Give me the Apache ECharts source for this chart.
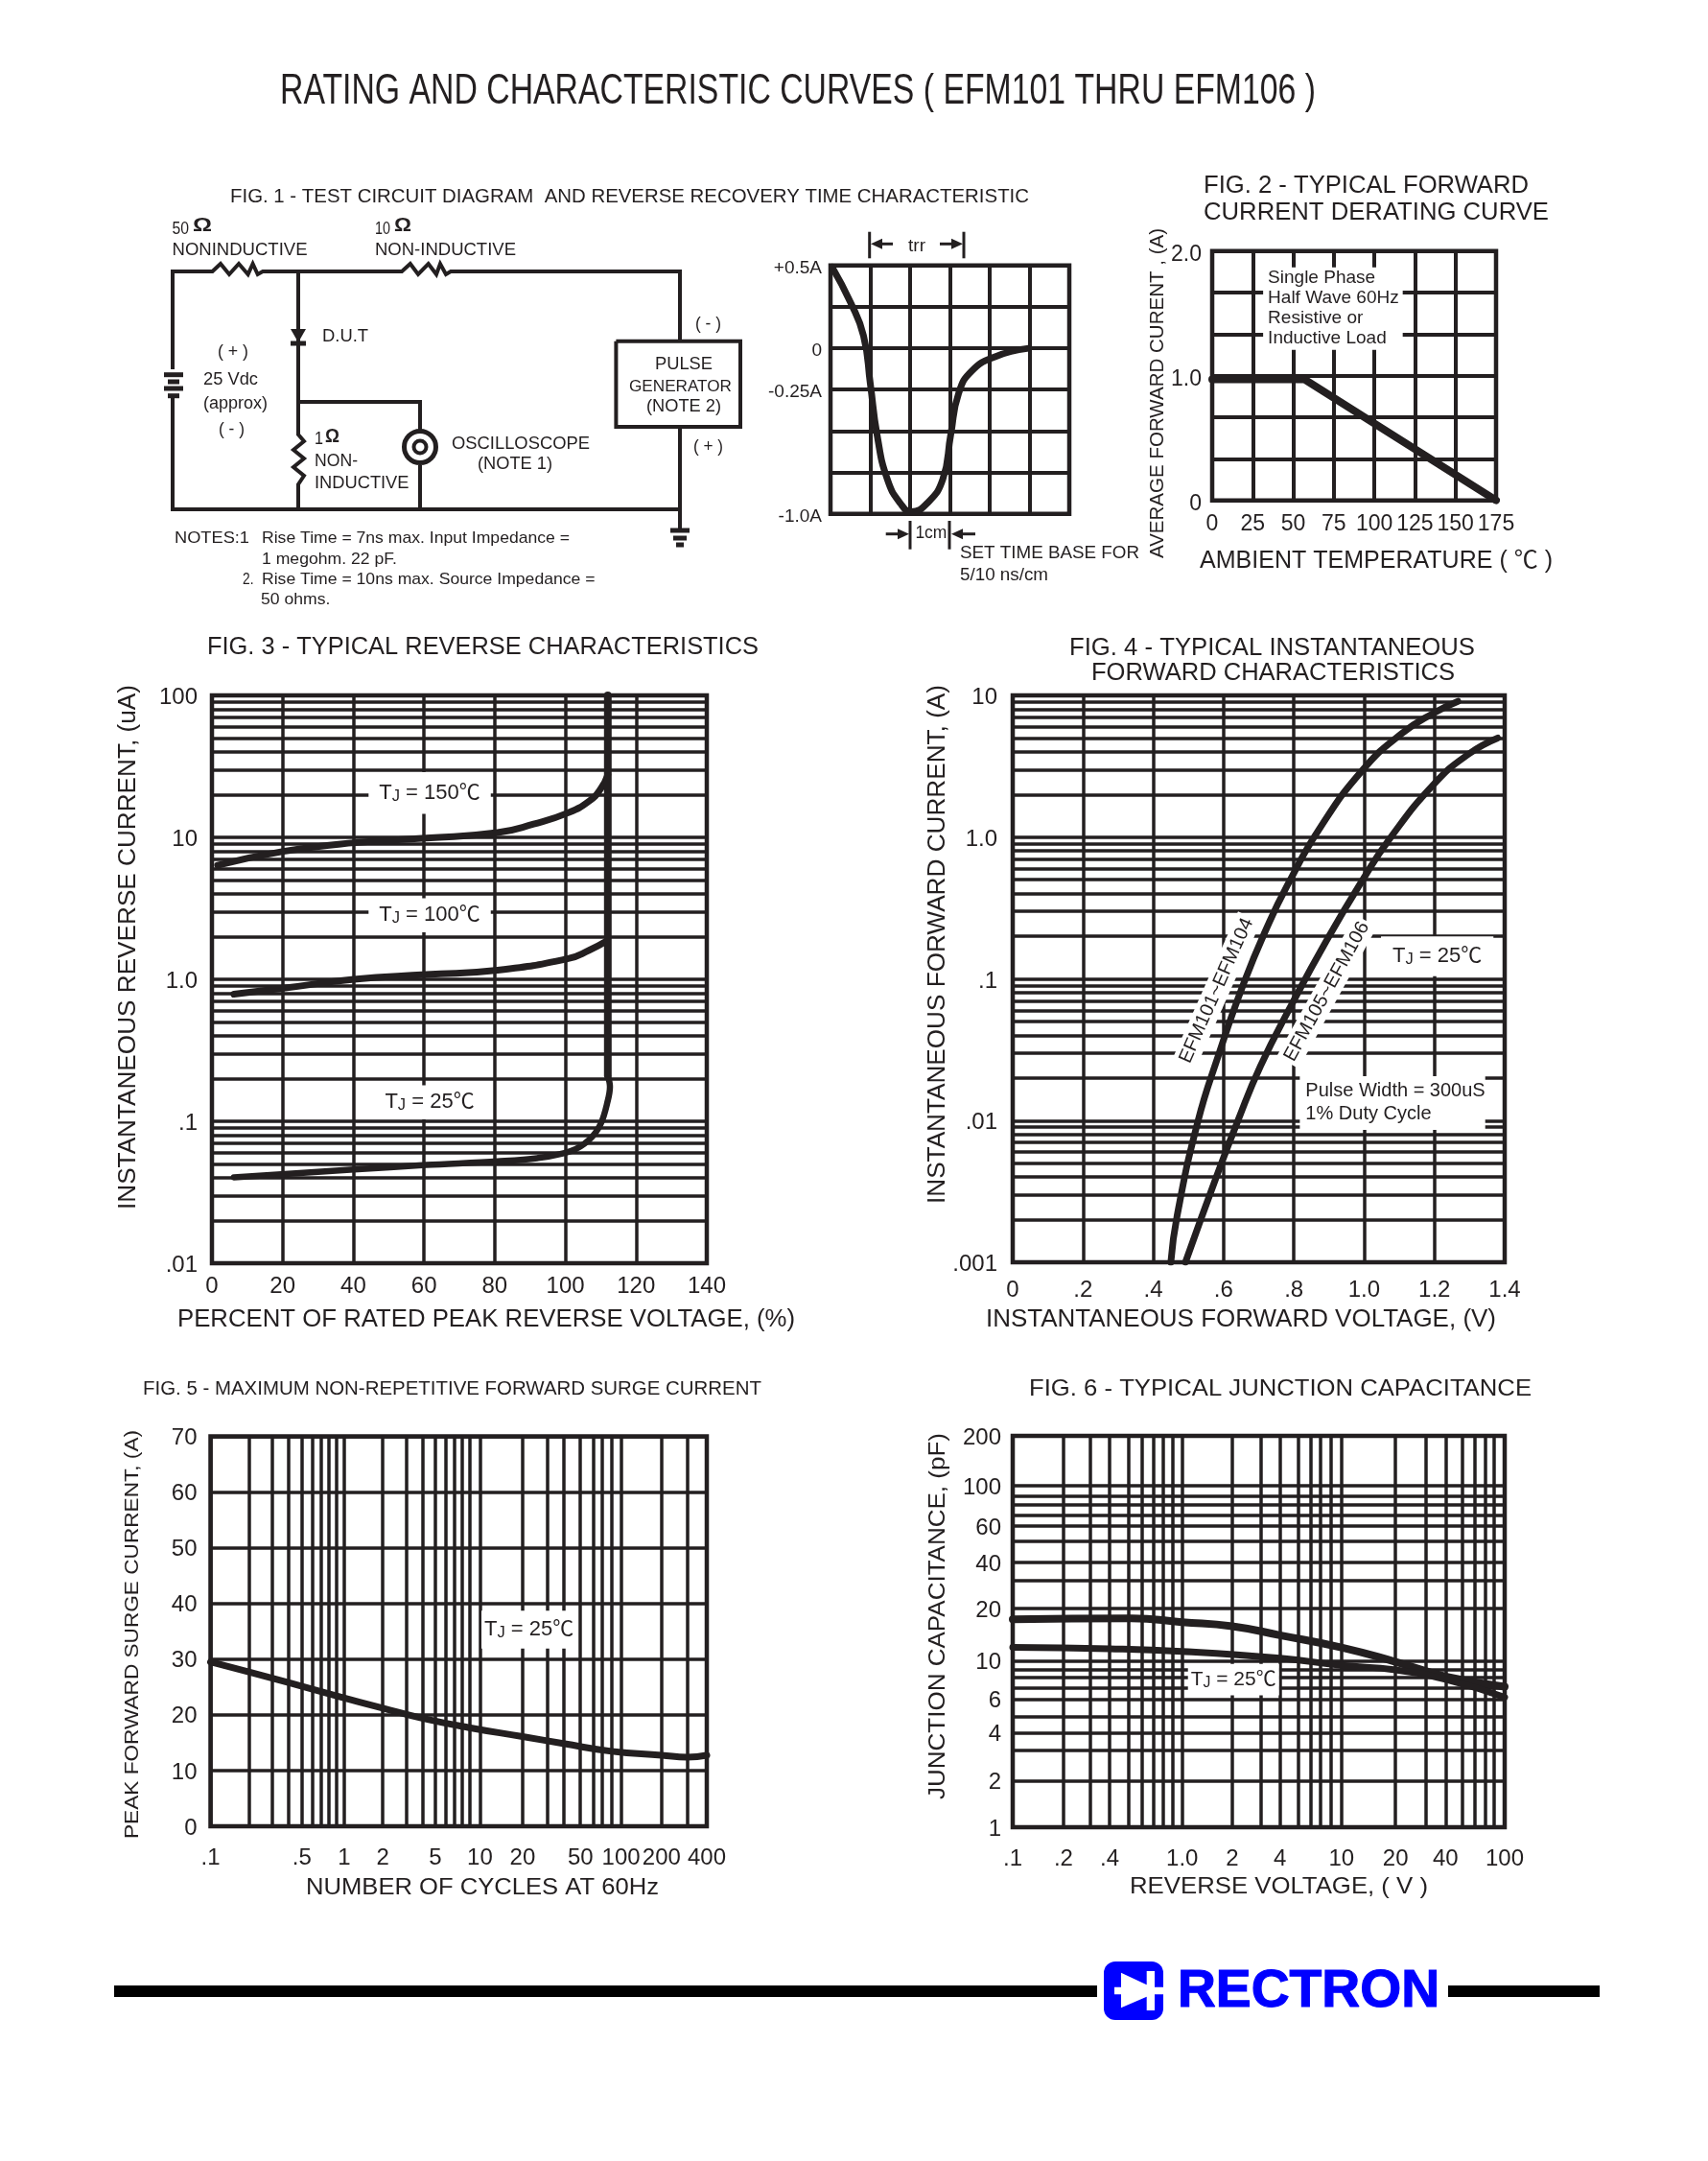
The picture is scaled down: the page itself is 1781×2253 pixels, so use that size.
<!DOCTYPE html>
<html><head><meta charset="utf-8"><title>EFM101 THRU EFM106</title>
<style>html,body{margin:0;padding:0;background:#fff}#c{width:1781px;height:2253px}</style>
<script src="https://cdn.jsdelivr.net/npm/echarts@6/dist/echarts.min.js"></script></head>
<body><div id="c"></div>
<script>
const INK = '#231f20', BLUE = '#0000ff';
const FONT = '"Liberation Sans","Noto Sans CJK SC",sans-serif';

/* ---------- FIG.1 time trace ---------- */
const scopeXTicks = [0,1,2,3,4,5,6];
const scopeYGrid = [-1,-0.75,-0.5,-0.25,0,0.25,0.5];
const scopeYTickAt = [0.5,0,-0.25,-1];
const scopeYLabels = ['+0.5A','0','-0.25A','-1.0A'];
const scopeTrace = [[.04,.49],[.5,.278],[.83,.075],[1,-.214],[1.17,-.523],[1.43,-.793],[1.76,-.938],[2.03,-.987],[2.42,-.938],[2.82,-.793],[3.02,-.523],[3.22,-.272],[3.55,-.137],[4.15,-.05],[4.94,-.002]];

/* ---------- FIG.2 ---------- */
const fig2XTicks = [0,25,50,75,100,125,150,175];
const fig2YGrid = [0,.3333,.6667,1,1.3333,1.6667,2];
const fig2YTickAt = [0,1,2];
const fig2YLabels = ['0','1.0','2.0'];
const fig2Curve = [[0,.97],[57,.97],[175,0]];

/* ---------- FIG.3 ---------- */
const fig3XTicks = [0,20,40,60,80,100,120,140];
const fig3YGrid = [.01,.02,.03,.04,.05,.06,.07,.08,.09,.1,.2,.3,.4,.5,.6,.7,.8,.9,1,2,3,4,5,6,7,8,9,10,20,30,40,50,60,70,80,90,100];
const fig3YTickAt = [.01,.1,1,10,100];
const fig3YLabels = ['.01','.1','1.0','10','100'];
const fig3Tj150 = [[1.6,6.36],[20.2,7.96],[40.2,9.16],[60.6,9.87],[80.8,10.8],[91,12.4],[100.8,14.9],[106.7,18],[110,22],[112,27.6]];
const fig3Tj100 = [[6.2,.785],[20.2,.865],[40.2,1],[60.6,1.08],[80.8,1.16],[100.8,1.4],[106.7,1.6],[111.7,1.86]];
const fig3Tj25 = [[6.2,.0403],[40.2,.0457],[60.6,.0492],[80.8,.0522],[92,.055],[101.5,.0616],[106.7,.074],[110,.096],[112,.14],[112.6,.175],[112,.21]];
const fig3Breakdown = [[112,.21],[112,100]];

/* ---------- FIG.4 ---------- */
const fig4XTicks = [0,.2,.4,.6,.8,1,1.2,1.4];
const fig4XLabels = ['0','.2','.4','.6','.8','1.0','1.2','1.4'];
const fig4YGrid = [.001,.002,.003,.004,.005,.006,.007,.008,.009,.01,.02,.03,.04,.05,.06,.07,.08,.09,.1,.2,.3,.4,.5,.6,.7,.8,.9,1,2,3,4,5,6,7,8,9,10];
const fig4YTickAt = [.001,.01,.1,1,10];
const fig4YLabels = ['.001','.01','.1','1.0','10'];
const fig4Efm101 = [[.45,.001],[.468,.00214],[.527,.00987],[.586,.0291],[.657,.0925],[.728,.244],[.782,.459],[.871,1.125],[.995,2.96],[1.107,5.38],[1.199,7.53],[1.267,9.08]];
const fig4Efm105 = [[.4915,.001],[.58,.00403],[.64,.00987],[.705,.0242],[.794,.066],[.894,.188],[.995,.495],[1.072,.968],[1.199,2.37],[1.297,3.85],[1.38,5]];

/* ---------- FIG.5 ---------- */
const fig5XGrid = [.1,.19,.282,.367,.461,.548,.632,.719,.823,.936,1.78,2.64,3.44,4.29,5.09,5.87,6.68,7.55,9.02,18.4,27.7,36.3,48.4,60,69,81.5,95.4,188,289,400];
const fig5XTickAt = [.1,.461,.936,1.78,4.29,9.02,18.4,48.4,95.4,188,400];
const fig5XLabels = ['.1','.5','1','2','5','10','20','50','100','200','400'];
const fig5YTicks = [0,10,20,30,40,50,60,70];
const fig5Curve = [[.1,29.5],[.19,27.7],[.367,25.8],[.823,23.4],[1.78,21.2],[3.44,19.4],[7.55,17.7],[18.4,16.1],[36.3,14.85],[81.5,13.45],[188,12.75],[289,12.4],[400,12.75]];

/* ---------- FIG.6 ---------- */
const fig6XGrid = [.1,.204,.298,.39,.508,.612,.721,.82,.948,1.08,2.18,3.24,4.26,5.48,6.53,7.55,8.74,10.1,21.6,33.1,43.6,55.1,65.6,76,85.4,100];
const fig6XTickAt = [.1,.204,.39,1.08,2.18,4.26,10.1,21.6,43.6,100];
const fig6XLabels = ['.1','.2','.4','1.0','2','4','10','20','40','100'];
const fig6YGrid = [1,1.88,2.83,3.6,4.46,5.67,6.6,7.6,8.4,9.5,19.3,28.3,36,47.9,58.9,68,78.5,88,101.7,200];
const fig6YTickAt = [1,1.88,3.6,5.67,9.5,19.3,36,58.9,101.7,200];
const fig6YLabels = ['1','2','4','6','10','20','40','60','100','200'];
const fig6Upper = [[.1,16.7],[.529,16.9],[1.08,16.07],[2.18,15.2],[4.26,13.45],[10.1,11.4],[21.6,9.39],[43.6,7.7],[100,6.7]];
const fig6Lower = [[.1,11.4],[.39,11.2],[1.08,10.8],[4.26,9.85],[10.1,8.95],[21.6,8.41],[43.6,7.39],[100,5.81]];

/* ---------- FIG.1 schematic, in page units on a hidden axis pair ---------- */
const wires = [
 [[180,385],[180,283],[221.5,283],[230,275],[239,286],[249,275],[258.6,286],[263.6,275],[268.7,286],[274,283],[419,283],[427.8,275],[436,286],[446.7,275],[455,286],[459,275],[465,286],[470,283],[709,283],[709,356]],
 [[180,412],[180,531],[709,531],[709,445]],
 [[709,531],[709,553]],
 [[311,283],[311,453],[317,460],[306,469],[317,478],[306,487],[317,496],[311,505],[311,531]],
 [[311,419],[438,419],[438,466]],
 [[438,485],[438,531]],
 [[642.4,355.7],[772,355.7],[772,445],[642.4,445],[642.4,355.7]]
];
const heavyWires = [
 [[171,390.7],[191,390.7]],[[175,398],[187,398]],[[171,405],[191,405]],[[175,412.7],[187,412.7]],
 [[699,553],[719,553]],[[702,561],[716,561]],[[705,568],[713,568]],
 [[303,358],[319,358]]
];
const dimLines = [
 [[906.7,241.7],[906.7,269.3]],[[1005,241.7],[1005,269.3]],[[917,254.3],[931,254.3]],[[980,254.3],[995,254.3]],
 [[949,543],[949,572.7]],[[990,543],[990,572.7]],[[923.7,556.7],[938,556.7]],[[1002,556.7],[1017,556.7]]
];
const arrowHeads = [[914,254.3,90],[998,254.3,-90],[942,556.7,-90],[998,556.7,90]];
const diodeHead = [[311,350,180]];
const scopeRings = [[438,466]];

/* ---------- free text: [text, left, right, centre y, font size, weight] ---------- */
const pageText = [
 ['RATING AND CHARACTERISTIC CURVES ( EFM101 THRU EFM106 )',292,1372,95,44],
 ['FIG. 1 - TEST CIRCUIT DIAGRAM  AND REVERSE RECOVERY TIME CHARACTERISTIC',240,1073,204,20],
 ['FIG. 2 - TYPICAL FORWARD',1255,1594,193,26],
 ['CURRENT DERATING CURVE',1255,1615,221,26],
 ['50',179.5,197,238,18],['Ω',201,221,234,21,'bold'],['NONINDUCTIVE',179.5,320.5,260,18],
 ['10',391,407,238,18],['Ω',411,429,234,21,'bold'],['NON-INDUCTIVE',391,538,260,18],
 ['D.U.T',336,384,350,18],['( + )',227,259,366,18],['25 Vdc',212,269,395,18],['(approx)',212,279,420,18],['( - )',228,255,447,18],
 ['( - )',725,752,337,18],['PULSE',683,743,379,18],['GENERATOR',656,763,402,17],['(NOTE 2)',674,752,423,18],['( + )',723,754,465,18],
 ['1',328,337,457,18],['Ω',339,354,454,21,'bold'],['NON-',328,373,480,18],['INDUCTIVE',328,426.5,503,18],
 ['OSCILLOSCOPE',471,615,462,18],['(NOTE 1)',498,576,483,18],
 ['NOTES:1',182,260,560.5,17],['Rise Time = 7ns max. Input Impedance =',273,594,560.5,17],['1 megohm. 22 pF.',273,414,582,17],
 ['2.',253,264.5,603,17],['Rise Time = 10ns max. Source Impedance =',273,620.5,603,17],['50 ohms.',272,344.4,624,17],
 ['trr',947,965,256,18],['1cm',954.4,987.4,555,18],
 ['SET TIME BASE FOR',1001,1188,576,18],['5/10 ns/cm',1001,1093,599,18],
 ['AMBIENT TEMPERATURE ( ℃ )',1251,1619,584.5,25],
 ['FIG. 3 - TYPICAL REVERSE CHARACTERISTICS',216,791,672.5,25],
 ['PERCENT OF RATED PEAK REVERSE VOLTAGE, (%)',185,829,1374,25],
 ['FIG. 4 - TYPICAL INSTANTANEOUS',1115,1538,674,25],
 ['FORWARD CHARACTERISTICS',1138,1517,699.5,25],
 ['INSTANTANEOUS FORWARD VOLTAGE, (V)',1028,1560,1374,25],
 ['FIG. 5 - MAXIMUM NON-REPETITIVE FORWARD SURGE CURRENT',149,794,1446,20],
 ['NUMBER OF CYCLES AT 60Hz',319,687,1966,24],
 ['FIG. 6 - TYPICAL JUNCTION CAPACITANCE',1073,1597,1446,24],
 ['REVERSE VOLTAGE, ( V )',1178,1489,1965,24]
];
/* [text, centre x, bottom, top, font size] */
const pageTextV = [
 ['AVERAGE FORWARD CURENT , (A)',1207,582,238,20],
 ['INSTANTANEOUS REVERSE CURRENT, (uA)',134,1261,714,25],
 ['INSTANTANEOUS FORWARD CURRENT, (A)',978,1255,714,25],
 ['PEAK FORWARD SURGE CURRENT, (A)',138,1917,1491,21],
 ['JUNCTION CAPACITANCE, (pF)',978,1876,1494,24]
];

/* ---------- helpers ---------- */
const mctx = document.createElement('canvas').getContext('2d');
function widthOf(t,size,w){ mctx.font=(w||'normal')+' '+size+'px '+FONT; return mctx.measureText(t).width; }
function H(t,x1,x2,y,size,weight,fill,stroke){
  const s={text:t,fontSize:size,fontFamily:FONT,fontWeight:weight||'normal',fill:fill||INK,align:'left',verticalAlign:'middle'};
  if(stroke){s.stroke=fill;s.lineWidth=stroke;}
  return {type:'text',x:x1,y:y+(y<640?1:2.5),scaleX:(x2-x1)/widthOf(t,size,weight),z:50,silent:true,style:s};
}
function V(t,x,yb,yt,size){
  return {type:'text',x:x,y:yb,rotation:Math.PI/2,scaleX:(yb-yt)/widthOf(t,size),z:50,silent:true,
    style:{text:t,fontSize:size,fontFamily:FONT,fill:INK,align:'left',verticalAlign:'middle'}};
}
function pick(at,labels,log,drop){
  return function(v){
    let b=0,bd=Infinity;
    at.forEach((a,i)=>{const d=log?Math.abs(Math.log(v/a)):Math.abs(v-a); if(d<bd){bd=d;b=i;}});
    return drop?'{d|'+labels[b]+'}':labels[b];
  };
}
function axis(o){
  const log=o.type==='log', fs=o.size||24;
  const a={type:o.type,min:o.min,max:o.max,gridIndex:o.g,
    axisLine:{show:false},
    axisTick:{show:false,customValues:o.grid},
    minorTick:{show:false},minorSplitLine:{show:false},
    splitLine:{show:true,lineStyle:{color:INK,width:o.lw||3.5,type:'solid'}},
    axisLabel:{show:true,customValues:o.at,margin:o.margin,color:INK,fontFamily:FONT,fontSize:fs,
      hideOverlap:false,formatter:pick(o.at,o.labels,log,o.drop),
      rich:{d:{fontSize:fs,fontFamily:FONT,color:INK,padding:[o.drop||0,0,0,0]}}}};
  return a;
}
const series=[];
function curve(g,data,w,z,smooth){
  series.push({type:'line',xAxisIndex:g,yAxisIndex:g,data:data,symbol:'none',showSymbol:false,silent:true,z:z||5,
    smooth:smooth===undefined?0.5:smooth,lineStyle:{color:INK,width:w,cap:'round',join:'round'},animation:false});
}
function note(g,x,y,text,o){
  o=o||{};
  const fs=o.size||22;
  series.push({type:'scatter',xAxisIndex:g,yAxisIndex:g,data:[[x,y]],symbolSize:0,silent:true,z:4,animation:false,
    itemStyle:{color:'#fff',opacity:1},
    label:{show:true,position:'inside',formatter:text,color:INK,opacity:1,fontFamily:FONT,fontSize:fs,
      backgroundColor:'#fff',padding:o.pad||[8,12,8,12],rotate:o.rotate||0,align:o.align||'center',verticalAlign:'middle',
      lineHeight:o.lh,
      rich:{t:{fontSize:fs,fontFamily:FONT,color:INK},j:{fontSize:fs*0.75,fontFamily:FONT,color:INK,padding:[7,0,0,0]}}}});
}

/* ---------- grids ---------- */
const gridBox=(l,t,r,b,w)=>({left:l,top:t,width:r-l,height:b-t,show:true,borderColor:INK,borderWidth:w,backgroundColor:'transparent'});
const grids=[
 gridBox(866,276.7,1115,535.7,4.5),
 gridBox(1264,261.7,1560,521.7,4.5),
 gridBox(221,725,737,1317,4.5),
 gridBox(1056,725,1569,1316,4.5),
 gridBox(219.5,1497.5,737,1904,4.5),
 gridBox(1056,1497,1569,1905,4.5),
 {left:0,top:0,width:1781,height:2253,show:false}
];
const xAxes=[
 axis({g:0,type:'value',min:0,max:6,grid:scopeXTicks,at:[],labels:[],size:1,lw:4}),
 axis({g:1,type:'value',min:0,max:175,grid:fig2XTicks,at:fig2XTicks,labels:fig2XTicks.map(String),size:23,margin:13,lw:4}),
 axis({g:2,type:'value',min:0,max:140,grid:fig3XTicks,at:fig3XTicks,labels:fig3XTicks.map(String),size:24,margin:12}),
 axis({g:3,type:'value',min:0,max:1.4,grid:fig4XTicks,at:fig4XTicks,labels:fig4XLabels,size:24,margin:17}),
 axis({g:4,type:'log',min:.1,max:400,grid:fig5XGrid,at:fig5XTickAt,labels:fig5XLabels,size:24,margin:21}),
 axis({g:5,type:'log',min:.1,max:100,grid:fig6XGrid,at:fig6XTickAt,labels:fig6XLabels,size:24,margin:21})
];
const yAxes=[
 axis({g:0,type:'value',min:-1,max:.5,grid:scopeYGrid,at:scopeYTickAt,labels:scopeYLabels,size:19,margin:9,lw:4,drop:6}),
 axis({g:1,type:'value',min:0,max:2,grid:fig2YGrid,at:fig2YTickAt,labels:fig2YLabels,size:23,margin:11,lw:4,drop:8}),
 axis({g:2,type:'log',min:.01,max:100,grid:fig3YGrid,at:fig3YTickAt,labels:fig3YLabels,size:24,margin:15,drop:5}),
 axis({g:3,type:'log',min:.001,max:10,grid:fig4YGrid,at:fig4YTickAt,labels:fig4YLabels,size:24,margin:16,drop:5}),
 axis({g:4,type:'value',min:0,max:70,grid:fig5YTicks,at:fig5YTicks,labels:fig5YTicks.map(String),size:24,margin:14,drop:4}),
 axis({g:5,type:'log',min:1,max:200,grid:fig6YGrid,at:fig6YTickAt,labels:fig6YLabels,size:24,margin:12,drop:4})
];
xAxes.push({type:'value',gridIndex:6,min:0,max:1781,show:false,splitLine:{show:false}});
yAxes.push({type:'value',gridIndex:6,min:0,max:2253,inverse:true,show:false,splitLine:{show:false}});

/* ---------- marks ---------- */
curve(0,scopeTrace,7);
curve(1,fig2Curve,8,5,false);
curve(2,fig3Tj150,7); curve(2,fig3Tj100,7); curve(2,fig3Tj25,6.5,5,0.35); curve(2,fig3Breakdown,8,5,false);
curve(3,fig4Efm101,7); curve(3,fig4Efm105,7);
curve(4,fig5Curve,7);
curve(5,fig6Upper,8); curve(5,fig6Lower,7);

const TJ=s=>'{t|T}{j|J}{t| = '+s+'℃}';
note(2,61.6,20.5,TJ('150'),{pad:[10,11,10,11]});
note(2,61.6,2.82,TJ('100'),{pad:[6,11,6,11]});
note(2,61.6,.136,TJ('25'),{pad:[6,12,6,12]});
note(3,.58,.0826,'EFM101~EFM104',{rotate:66,size:20,pad:[3,3,3,3]});
note(3,.894,.0813,'EFM105~EFM106',{rotate:61,size:20,pad:[3,3,3,3]});
note(3,1.208,.1445,TJ('25'),{pad:[9,12,9,12]});
note(3,.817,.0133,'Pulse Width = 300uS\n1% Duty Cycle',{align:'left',size:20,lh:24,pad:[4,0,4,6]});
note(1,31.4,1.538,'Single Phase\nHalf Wave 60Hz\nResistive or\nInductive Load',{align:'left',size:19,lh:21,pad:[1,4,1,5]});
note(4,20.5,35.3,TJ('25'),{pad:[8,3,8,3]});
note(5,2.22,7.38,TJ('25'),{size:21,pad:[5,3,5,3]});

function wire(data,w){ curve(6,data,w,5,false); series[series.length-1].lineStyle.cap='butt'; series[series.length-1].lineStyle.join='miter'; }
wires.forEach(d=>wire(d,4));
heavyWires.forEach(d=>wire(d,5));
dimLines.forEach(d=>wire(d,3));
series.push({type:'scatter',xAxisIndex:6,yAxisIndex:6,data:arrowHeads,symbol:'triangle',symbolSize:[11,12],symbolRotate:v=>v[2],itemStyle:{color:INK,opacity:1},silent:true,z:6,animation:false});
series.push({type:'scatter',xAxisIndex:6,yAxisIndex:6,data:diodeHead,symbol:'triangle',symbolSize:[16,14],symbolRotate:v=>v[2],itemStyle:{color:INK,opacity:1},silent:true,z:6,animation:false});
series.push({type:'scatter',xAxisIndex:6,yAxisIndex:6,data:scopeRings,symbol:'circle',symbolSize:33,itemStyle:{color:'#fff',opacity:1,borderColor:INK,borderWidth:5},silent:true,z:6,animation:false});
series.push({type:'scatter',xAxisIndex:6,yAxisIndex:6,data:scopeRings,symbol:'circle',symbolSize:13,itemStyle:{color:'#fff',opacity:1,borderColor:INK,borderWidth:4},silent:true,z:7,animation:false});

/* ---------- page furniture ---------- */
const graphic=[];
pageText.forEach(t=>graphic.push(H(t[0],t[1],t[2],t[3],t[4],t[5])));
pageTextV.forEach(t=>graphic.push(V(t[0],t[1],t[2],t[3],t[4])));
graphic.push({type:'rect',shape:{x:119,y:2070,width:1025,height:12},style:{fill:'#000'},silent:true});
graphic.push({type:'rect',shape:{x:1510,y:2070,width:158,height:12},style:{fill:'#000'},silent:true});
graphic.push({type:'rect',shape:{x:1151,y:2045,width:62,height:61,r:12},style:{fill:BLUE},silent:true});
graphic.push({type:'polygon',shape:{points:[[1162,2071.7],[1169,2071.7],[1169,2056.7],[1195.7,2069.3],[1195.7,2055],[1204,2055],[1204,2071.7],[1213,2071.7],[1213,2079.3],[1204,2079.3],[1204,2096],[1195.7,2096],[1195.7,2081.7],[1169,2093.3],[1169,2079.3],[1162,2079.3]]},style:{fill:'#fff'},silent:true,z:2});
graphic.push(H('RECTRON',1228,1501,2074,56,'bold',BLUE,1.2));

const chart=echarts.init(document.getElementById('c'),null,{renderer:'canvas',width:1781,height:2253});
chart.setOption({animation:false,backgroundColor:'#fff',tooltip:{show:false},legend:{show:false},
  grid:grids,xAxis:xAxes,yAxis:yAxes,series:series,graphic:{elements:graphic}});
</script></body></html>
